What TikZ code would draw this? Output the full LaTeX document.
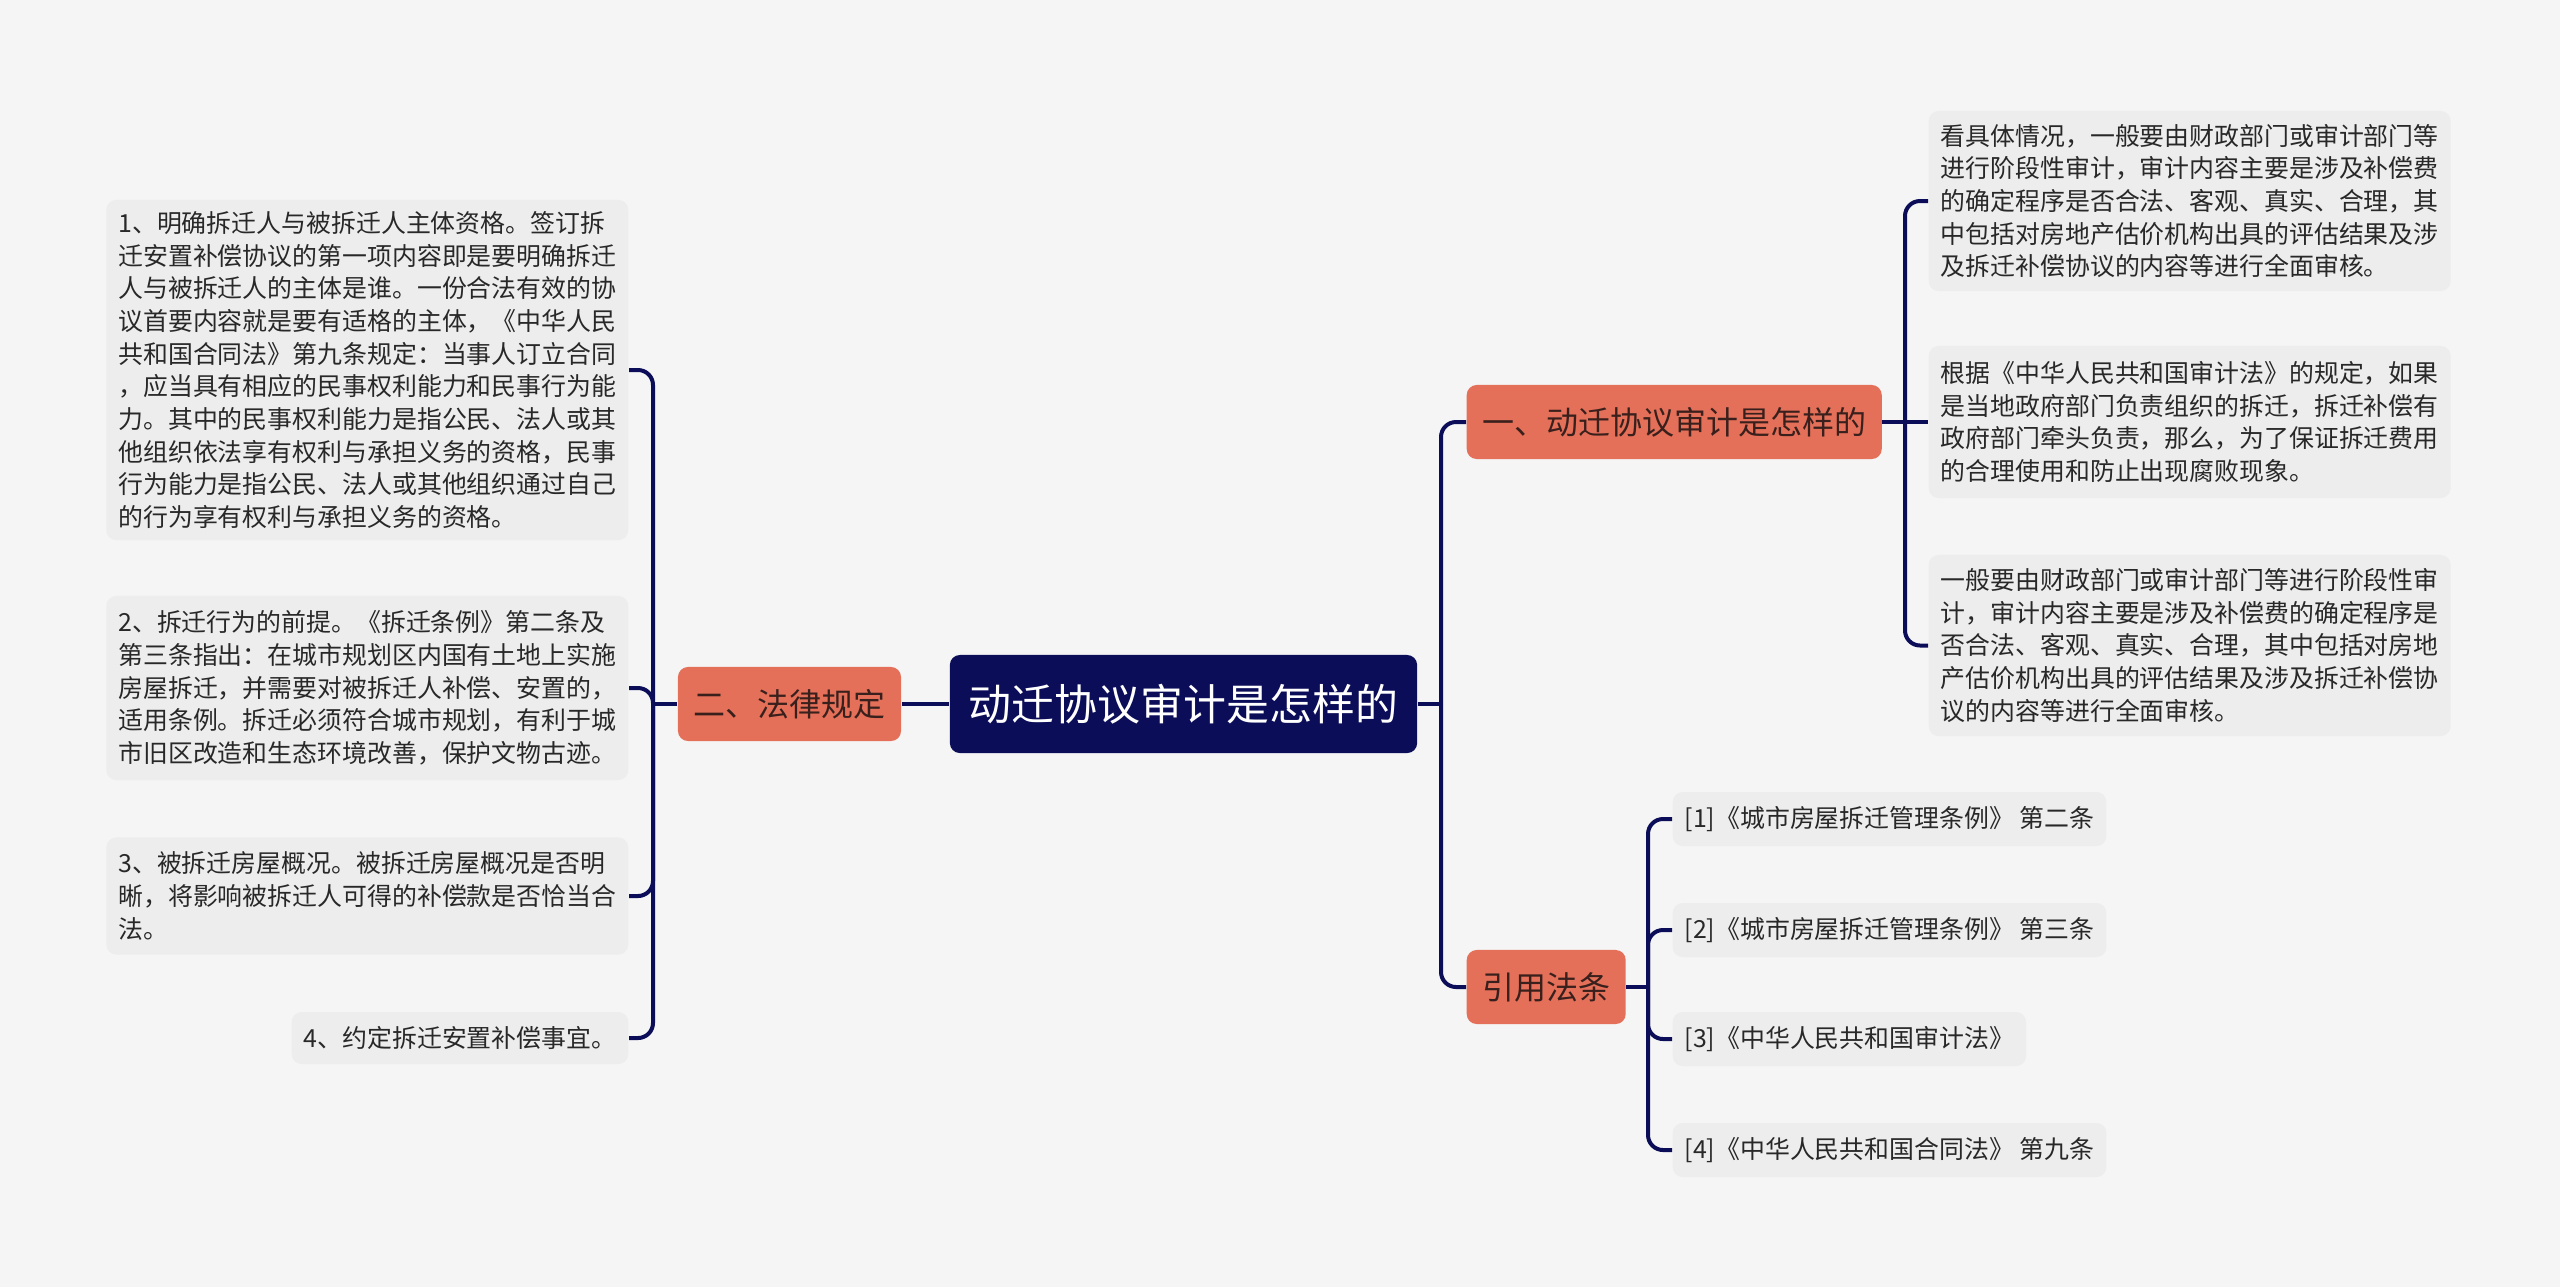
\documentclass[tikz,border=0pt]{standalone}
\usepackage{fontspec}
\setmainfont{Noto Sans CJK SC}
\definecolor{bgcol}{RGB}{245,245,245}
\definecolor{navy}{RGB}{11,13,88}
\definecolor{coral}{RGB}{229,112,90}
\definecolor{topictext}{RGB}{58,32,28}
\definecolor{leafgray}{RGB}{237,237,237}
\definecolor{leaftext}{RGB}{40,40,40}

\begin{document}
\begin{tikzpicture}[
    x=0.01cm, y=-0.01cm,
    root/.style={fill=navy, text=white, rounded corners=0.1cm, minimum width=4.67cm, minimum height=0.98cm, font=\fontsize{12.2}{14}\selectfont},
    topic/.style={fill=coral, text=topictext, rounded corners=0.1cm, minimum height=0.74cm, inner xsep=0.155cm, font=\fontsize{9.1}{11}\selectfont},
    leaf/.style={fill=leafgray, text=leaftext, rounded corners=0.1cm, align=left, inner xsep=0.12cm, minimum height=0.54cm, font=\fontsize{7.08}{9.28}\selectfont},
    link/.style={draw=navy, line width=0.04cm, rounded corners=0.15cm}
]

% Background
\fill[bgcol] (0,0) rectangle (2560,1287);
\useasboundingbox (0,0) rectangle (2560,1287);

% Root and topics
\node[root] (root) at (1183.5,704) {动迁协议审计是怎样的};
\node[topic] (law) at (789.5,704) {二、法律规定};
\node[topic, anchor=west] (audit) at (1466,422) {一、动迁协议审计是怎样的};
\node[topic, anchor=west] (cite) at (1466,987) {引用法条};

% Left leaves
\node[leaf, anchor=east, minimum height=3.38cm] (l1) at (629,370) {1、明确拆迁人与被拆迁人主体资格。签订拆\\迁安置补偿协议的第一项内容即是要明确拆迁\\人与被拆迁人的主体是谁。一份合法有效的协\\议首要内容就是要有适格的主体，《中华人民\\共和国合同法》第九条规定：当事人订立合同\\，应当具有相应的民事权利能力和民事行为能\\力。其中的民事权利能力是指公民、法人或其\\他组织依法享有权利与承担义务的资格，民事\\行为能力是指公民、法人或其他组织通过自己\\的行为享有权利与承担义务的资格。};
\node[leaf, anchor=east, minimum height=1.84cm] (l2) at (629,688) {2、拆迁行为的前提。《拆迁条例》第二条及\\第三条指出：在城市规划区内国有土地上实施\\房屋拆迁，并需要对被拆迁人补偿、安置的，\\适用条例。拆迁必须符合城市规划，有利于城\\市旧区改造和生态环境改善，保护文物古迹。};
\node[leaf, anchor=east, minimum height=1.17cm] (l3) at (629,896) {3、被拆迁房屋概况。被拆迁房屋概况是否明\\晰，将影响被拆迁人可得的补偿款是否恰当合\\法。};
\node[leaf, anchor=east, minimum height=0.52cm] (l4) at (629,1038) {4、约定拆迁安置补偿事宜。};

% Right leaves
\node[leaf, anchor=west, minimum height=1.8cm] (ra) at (1928,201) {看具体情况，一般要由财政部门或审计部门等\\进行阶段性审计，审计内容主要是涉及补偿费\\的确定程序是否合法、客观、真实、合理，其\\中包括对房地产估价机构出具的评估结果及涉\\及拆迁补偿协议的内容等进行全面审核。};
\node[leaf, anchor=west, minimum height=1.52cm] (rb) at (1928,422) {根据《中华人民共和国审计法》的规定，如果\\是当地政府部门负责组织的拆迁，拆迁补偿有\\政府部门牵头负责，那么，为了保证拆迁费用\\的合理使用和防止出现腐败现象。};
\node[leaf, anchor=west, minimum height=1.81cm] (rc) at (1928,645.5) {一般要由财政部门或审计部门等进行阶段性审\\计，审计内容主要是涉及补偿费的确定程序是\\否合法、客观、真实、合理，其中包括对房地\\产估价机构出具的评估结果及涉及拆迁补偿协\\议的内容等进行全面审核。};

% Cited laws
\node[leaf, anchor=west] (r1) at (1672,819) {[1]《城市房屋拆迁管理条例》 第二条};
\node[leaf, anchor=west] (r2) at (1672,930) {[2]《城市房屋拆迁管理条例》 第三条};
\node[leaf, anchor=west] (r3) at (1672,1039) {[3]《中华人民共和国审计法》};
\node[leaf, anchor=west] (r4) at (1672,1150) {[4]《中华人民共和国合同法》 第九条};

% Connectors
\coordinate (ltrunk) at (653,704);
\coordinate (rtrunk) at (1441,704);
\coordinate (atrunk) at (1905,422);
\coordinate (ctrunk) at (1648,987);

\draw[link] (root.west) -- (law.east);
\draw[link] (law.west) -- (ltrunk);
\foreach \n in {l1,l2,l3,l4}
    \draw[link] (ltrunk) |- (\n.east);

\draw[link] (root.east) -- (rtrunk);
\draw[link] (rtrunk) |- (audit.west);
\draw[link] (rtrunk) |- (cite.west);

\draw[link] (audit.east) -- (rb.west);
\draw[link] (atrunk) |- (ra.west);
\draw[link] (atrunk) |- (rc.west);

\draw[link] (cite.east) -- (ctrunk);
\foreach \n in {r1,r2,r3,r4}
    \draw[link] (ctrunk) |- (\n.west);

\end{tikzpicture}
\end{document}
